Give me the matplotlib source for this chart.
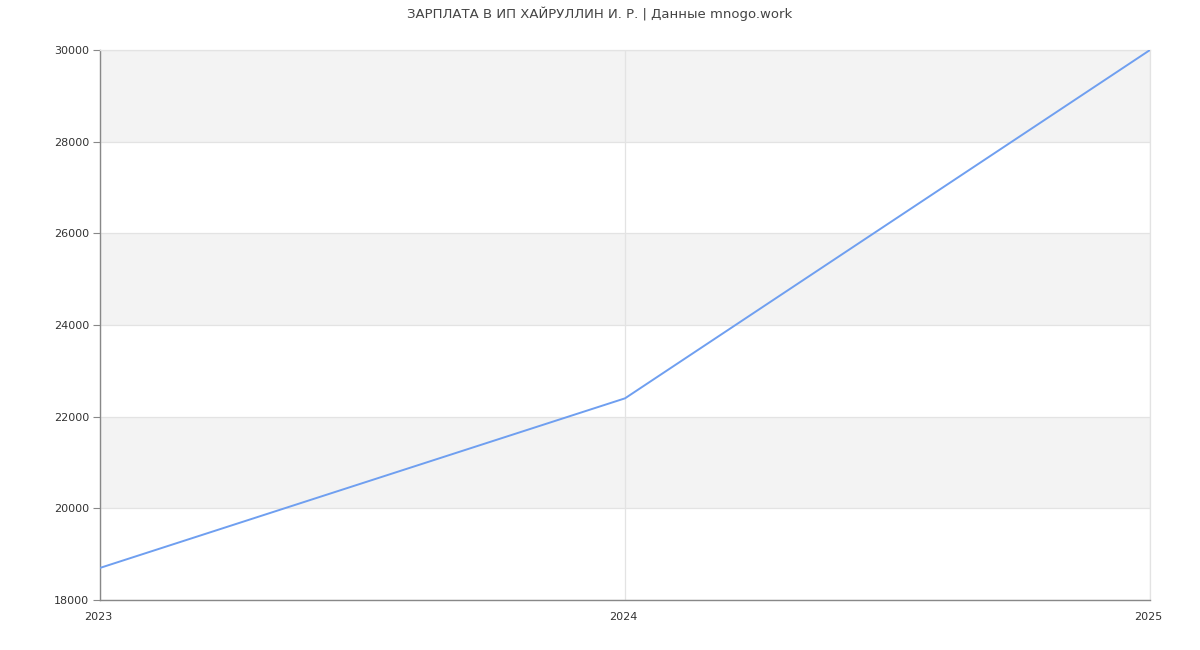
import matplotlib
matplotlib.use("Agg")
import matplotlib.pyplot as plt
import matplotlib.transforms as mtransforms

years = [2023, 2024, 2025]
salary = [18700, 22400, 30000]
y_ticks = [18000, 20000, 22000, 24000, 26000, 28000, 30000]
title = "ЗАРПЛАТА В ИП ХАЙРУЛЛИН И. Р. | Данные mnogo.work"

plt.rcParams['font.family'] = ['DejaVu Sans']

fig = plt.figure(figsize=(12, 6.5), dpi=100)
ax = fig.add_axes([100 / 1200, 50 / 650, 1050 / 1200, 550 / 650])

ax.set_xlim(years[0], years[-1])
ax.set_ylim(y_ticks[0], y_ticks[-1])

# alternating horizontal bands
for i in range(len(y_ticks) - 1):
    if i % 2 == 1:
        ax.axhspan(y_ticks[i], y_ticks[i + 1], color="#f3f3f3", zorder=0, lw=0)

ax.set_yticks(y_ticks)
ax.set_xticks(years)
ax.set_xticklabels([str(y) for y in years])
ax.grid(True, color="#e3e3e3", lw=0.9, zorder=1)

ax.plot(years, salary, color="#6f9ff0", lw=1.4, zorder=3)

ax.spines["top"].set_color("#e3e3e3")
ax.spines["top"].set_linewidth(0.9)
ax.spines["right"].set_color("#e3e3e3")
ax.spines["right"].set_linewidth(0.9)
for side in ("left", "bottom"):
    ax.spines[side].set_color("#888888")
    ax.spines[side].set_linewidth(1.0)

ax.tick_params(axis="y", length=5, color="#888888", labelsize=8, labelcolor="#333333", pad=3)
ax.tick_params(axis="x", length=0, labelsize=8, labelcolor="#333333", pad=9)

shift = mtransforms.ScaledTranslation(-2 / 100, 0, fig.dpi_scale_trans)
for lbl in ax.get_xticklabels():
    lbl.set_transform(lbl.get_transform() + shift)

fig.text(0.5, 1 - 14 / 650, title, ha="center", va="center", fontsize=9.5, color="#444444")

fig.savefig("out.png", dpi=100, facecolor="white")
